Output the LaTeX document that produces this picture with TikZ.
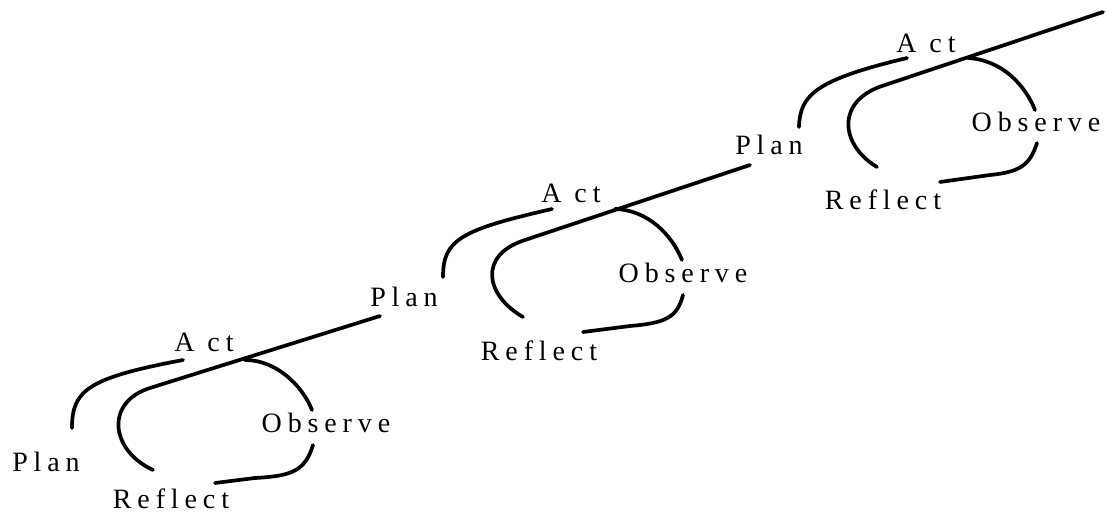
\documentclass[tikz,border=0pt]{standalone}
\usepackage{fontspec}
\newfontfamily\lblfont[LetterSpace=21]{Liberation Serif}
\begin{document}
\begin{tikzpicture}[x=1pt,y=-1pt,
  lbl/.style={font=\lblfont\fontsize{28}{30}\selectfont, inner sep=0pt},
  arc/.style={line width=3.7pt, line cap=round}]
\useasboundingbox (0,0) rectangle (1106,519);
% ---------- cycle 1 ----------
\node[lbl] (plan1) at (46,462) {Plan};
\node[lbl] (act1) at (204,342) {A ct};
\node[lbl] (obs1) at (326,423) {Observe};
\node[lbl] (ref1) at (171,499) {Reflect};
% ---------- cycle 2 ----------
\node[lbl] (plan2) at (404,297) {Plan};
\node[lbl] (act2) at (571,193) {A ct};
\node[lbl] (obs2) at (683,273) {Observe};
\node[lbl] (ref2) at (539,351) {Reflect};
% ---------- cycle 3 ----------
\node[lbl] (plan3) at (769,145) {Plan};
\node[lbl] (act3) at (926,43) {A ct};
\node[lbl] (obs3) at (1036,122) {Observe};
\node[lbl] (ref3) at (883,200) {Reflect};
% ---------- connector end points ----------
\coordinate (p1s) at (72,428);   \coordinate (p1e) at (183,360);
\coordinate (r1s) at (153,470);  \coordinate (r1j) at (150,388);  \coordinate (r1e) at (380,316);
\coordinate (o1s) at (245,360);  \coordinate (o1e) at (312,410);
\coordinate (q1s) at (313,445);  \coordinate (q1j) at (255,478);  \coordinate (q1e) at (215,483);
\coordinate (p2s) at (443,277);  \coordinate (p2e) at (552,209);
\coordinate (r2s) at (523,317);  \coordinate (r2j) at (525,240);  \coordinate (r2e) at (750,165);
\coordinate (o2s) at (615,209);  \coordinate (o2e) at (682,260);
\coordinate (q2s) at (683,295);  \coordinate (q2j) at (630,326);  \coordinate (q2e) at (583,332);
\coordinate (p3s) at (799,127);  \coordinate (p3e) at (907,58);
\coordinate (r3s) at (877,167);  \coordinate (r3j) at (885,85);   \coordinate (r3e) at (1103,12);
\coordinate (o3s) at (968,58);   \coordinate (o3e) at (1035,110);
\coordinate (q3s) at (1037,143); \coordinate (q3j) at (990,175);  \coordinate (q3e) at (940,182);
% ---------- cycle 1 arcs ----------
\draw[arc] (p1s) .. controls (72,390) and (88,378) .. (p1e);
\draw[arc] (r1s) .. controls (110,450) and (105,402) .. (r1j) -- (r1e);
\draw[arc] (o1s) .. controls (276,360) and (302,385) .. (o1e);
\draw[arc] (q1s) .. controls (305,472) and (290,476) .. (q1j) -- (q1e);
% ---------- cycle 2 arcs ----------
\draw[arc] (p2s) .. controls (443,240) and (460,230) .. (p2e);
\draw[arc] (r2s) .. controls (485,295) and (478,255) .. (r2j) -- (r2e);
\draw[arc] (o2s) .. controls (648,210) and (672,235) .. (o2e);
\draw[arc] (q2s) .. controls (677,318) and (665,323) .. (q2j) -- (q2e);
% ---------- cycle 3 arcs ----------
\draw[arc] (p3s) .. controls (800,95) and (815,80) .. (p3e);
\draw[arc] (r3s) .. controls (840,145) and (835,100) .. (r3j) -- (r3e);
\draw[arc] (o3s) .. controls (1002,60) and (1025,85) .. (o3e);
\draw[arc] (q3s) .. controls (1030,165) and (1020,172) .. (q3j) -- (q3e);
\end{tikzpicture}
\end{document}
